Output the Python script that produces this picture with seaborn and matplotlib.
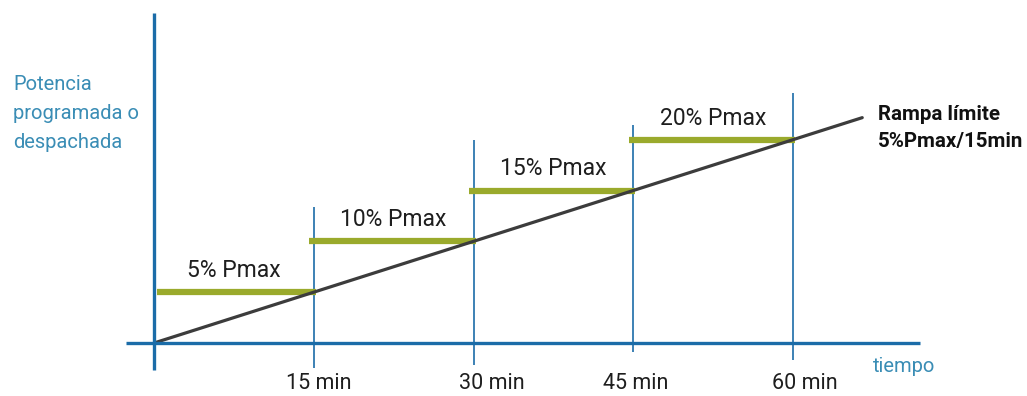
import matplotlib
matplotlib.use("Agg")
import matplotlib.pyplot as plt
import seaborn as sns
import pandas as pd

# ---- data ----
step_starts = [0, 15, 30, 45]            # minutes
step_ends = [15, 30, 45, 60]             # minutes
step_levels = [5, 10, 15, 20]            # % Pmax
step_labels = ["5% Pmax", "10% Pmax", "15% Pmax", "20% Pmax"]
tick_minutes = [15, 30, 45, 60]
tick_labels = ["15 min", "30 min", "45 min", "60 min"]
ramp_t = [0, 66.5]                       # minutes
ramp_p = [0, 22.2]                       # % Pmax (5% / 15 min)
vline_top = [13.4, 20.0, 21.5, 24.6]     # top of each time marker (% Pmax)
vline_bottom = [-2.5, -2.2, -0.9, -1.7]

# ---- style ----
sns.set_theme(style="white")
plt.rcParams['font.family'] = ['Roboto', 'DejaVu Sans']

BLUE = "#1b6ca8"
TEAL = "#3a8db5"
GREEN = "#9aaa2c"
GRAY = "#3c3c3c"
TXT = "#1e1e1e"

fig = plt.figure(figsize=(10.27, 3.96), dpi=100)
ax = fig.add_axes([0, 0, 1, 1])

# time markers
ax.vlines(tick_minutes, vline_bottom, vline_top, color=BLUE, lw=1.2, zorder=2)

# programmed power steps
starts_adj = [s + (0.3 if s == 0 else -0.4) for s in step_starts]
ax.hlines(step_levels, starts_adj, [e + 0.2 for e in step_ends],
          color=GREEN, lw=4.5, zorder=3, capstyle="butt")

# ramp limit
ramp_df = pd.DataFrame({"t": ramp_t, "p": ramp_p})
sns.lineplot(data=ramp_df, x="t", y="p", ax=ax, color=GRAY, lw=2.3, zorder=4,
             legend=False)
ax.set_xlim(-14.46, 81.97)
ax.set_ylim(-5.22, 33.79)
ax.axis("off")

# axes lines
ax.plot([-2.63, 71.9], [0, 0], color=BLUE, lw=2.4, zorder=5, solid_capstyle="butt")
ax.plot([0, 0], [-2.66, 32.5], color=BLUE, lw=2.4, zorder=5, solid_capstyle="butt")

# step labels
for s, e, lvl, lab in zip(step_starts, step_ends, step_levels, step_labels):
    ax.annotate(lab, xy=((s + e) / 2, lvl), xytext=(0, 7.5), textcoords="offset points",
                ha="center", va="bottom", fontsize=16.5, color=TXT, zorder=6)

# time tick labels
label_dx_px = [5, 18, 2, 12]
for t, lab, dx in zip(tick_minutes, tick_labels, label_dx_px):
    ax.annotate(lab, xy=(t, 0), xytext=(dx * 0.72, -29), textcoords="offset points",
                ha="center", va="center", fontsize=15.5, color=TXT)

# axis titles
for i, line in enumerate(["Potencia", "programada o", "despachada"]):
    fig.text(13 / 1027, 1 - (85 + 28.5 * i) / 396, line,
             ha="left", va="center", fontsize=14.5, color=TEAL)
fig.text(904 / 1027, 1 - 367 / 396, "tiempo", ha="center", va="center",
         fontsize=14.5, color=TEAL)

fig.text(878 / 1027, 1 - 115 / 396, "Rampa límite", ha="left", va="center",
         fontsize=14.8, fontweight="bold", color="#111111")
fig.text(878 / 1027, 1 - 142 / 396, "5%Pmax/15min", ha="left", va="center",
         fontsize=14.8, fontweight="bold", color="#111111")

fig.savefig("out.png", dpi=100, facecolor="white")
